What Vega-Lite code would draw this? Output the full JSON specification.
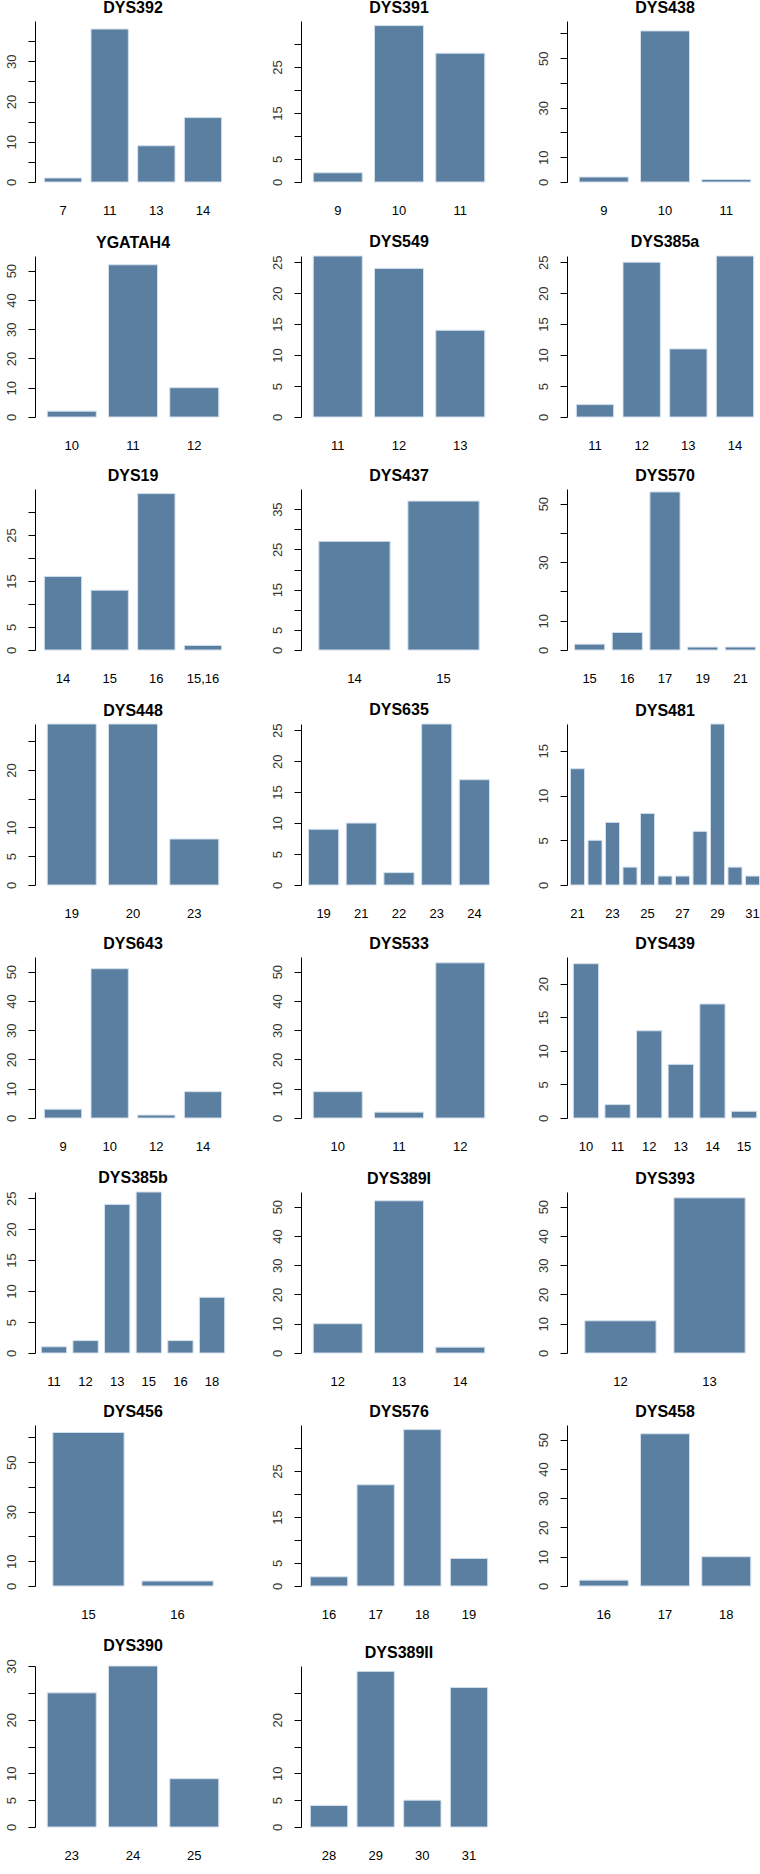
{
  "$schema": "https://vega.github.io/schema/vega-lite/v6.json",
  "padding": {"left": 5, "top": 0, "right": 0, "bottom": 0},
  "background": "white",
  "data": {"values": [
    {"m": "DYS392", "allele": "7", "count": 1}, {"m": "DYS392", "allele": "11", "count": 38}, {"m": "DYS392", "allele": "13", "count": 9}, {"m": "DYS392", "allele": "14", "count": 16},
    {"m": "DYS391", "allele": "9", "count": 2}, {"m": "DYS391", "allele": "10", "count": 34}, {"m": "DYS391", "allele": "11", "count": 28},
    {"m": "DYS438", "allele": "9", "count": 2}, {"m": "DYS438", "allele": "10", "count": 61}, {"m": "DYS438", "allele": "11", "count": 1},
    {"m": "YGATAH4", "allele": "10", "count": 2}, {"m": "YGATAH4", "allele": "11", "count": 52}, {"m": "YGATAH4", "allele": "12", "count": 10},
    {"m": "DYS549", "allele": "11", "count": 26}, {"m": "DYS549", "allele": "12", "count": 24}, {"m": "DYS549", "allele": "13", "count": 14},
    {"m": "DYS385a", "allele": "11", "count": 2}, {"m": "DYS385a", "allele": "12", "count": 25}, {"m": "DYS385a", "allele": "13", "count": 11}, {"m": "DYS385a", "allele": "14", "count": 26},
    {"m": "DYS19", "allele": "14", "count": 16}, {"m": "DYS19", "allele": "15", "count": 13}, {"m": "DYS19", "allele": "16", "count": 34}, {"m": "DYS19", "allele": "15,16", "count": 1},
    {"m": "DYS437", "allele": "14", "count": 27}, {"m": "DYS437", "allele": "15", "count": 37},
    {"m": "DYS570", "allele": "15", "count": 2}, {"m": "DYS570", "allele": "16", "count": 6}, {"m": "DYS570", "allele": "17", "count": 54}, {"m": "DYS570", "allele": "19", "count": 1}, {"m": "DYS570", "allele": "21", "count": 1},
    {"m": "DYS448", "allele": "19", "count": 28}, {"m": "DYS448", "allele": "20", "count": 28}, {"m": "DYS448", "allele": "23", "count": 8},
    {"m": "DYS635", "allele": "19", "count": 9}, {"m": "DYS635", "allele": "21", "count": 10}, {"m": "DYS635", "allele": "22", "count": 2}, {"m": "DYS635", "allele": "23", "count": 26}, {"m": "DYS635", "allele": "24", "count": 17},
    {"m": "DYS481", "allele": "21", "count": 13}, {"m": "DYS481", "allele": "22", "count": 5}, {"m": "DYS481", "allele": "23", "count": 7}, {"m": "DYS481", "allele": "24", "count": 2}, {"m": "DYS481", "allele": "25", "count": 8}, {"m": "DYS481", "allele": "26", "count": 1}, {"m": "DYS481", "allele": "27", "count": 1}, {"m": "DYS481", "allele": "28", "count": 6}, {"m": "DYS481", "allele": "29", "count": 18}, {"m": "DYS481", "allele": "30", "count": 2}, {"m": "DYS481", "allele": "31", "count": 1},
    {"m": "DYS643", "allele": "9", "count": 3}, {"m": "DYS643", "allele": "10", "count": 51}, {"m": "DYS643", "allele": "12", "count": 1}, {"m": "DYS643", "allele": "14", "count": 9},
    {"m": "DYS533", "allele": "10", "count": 9}, {"m": "DYS533", "allele": "11", "count": 2}, {"m": "DYS533", "allele": "12", "count": 53},
    {"m": "DYS439", "allele": "10", "count": 23}, {"m": "DYS439", "allele": "11", "count": 2}, {"m": "DYS439", "allele": "12", "count": 13}, {"m": "DYS439", "allele": "13", "count": 8}, {"m": "DYS439", "allele": "14", "count": 17}, {"m": "DYS439", "allele": "15", "count": 1},
    {"m": "DYS385b", "allele": "11", "count": 1}, {"m": "DYS385b", "allele": "12", "count": 2}, {"m": "DYS385b", "allele": "13", "count": 24}, {"m": "DYS385b", "allele": "15", "count": 26}, {"m": "DYS385b", "allele": "16", "count": 2}, {"m": "DYS385b", "allele": "18", "count": 9},
    {"m": "DYS389I", "allele": "12", "count": 10}, {"m": "DYS389I", "allele": "13", "count": 52}, {"m": "DYS389I", "allele": "14", "count": 2},
    {"m": "DYS393", "allele": "12", "count": 11}, {"m": "DYS393", "allele": "13", "count": 53},
    {"m": "DYS456", "allele": "15", "count": 62}, {"m": "DYS456", "allele": "16", "count": 2},
    {"m": "DYS576", "allele": "16", "count": 2}, {"m": "DYS576", "allele": "17", "count": 22}, {"m": "DYS576", "allele": "18", "count": 34}, {"m": "DYS576", "allele": "19", "count": 6},
    {"m": "DYS458", "allele": "16", "count": 2}, {"m": "DYS458", "allele": "17", "count": 52}, {"m": "DYS458", "allele": "18", "count": 10},
    {"m": "DYS390", "allele": "23", "count": 25}, {"m": "DYS390", "allele": "24", "count": 30}, {"m": "DYS390", "allele": "25", "count": 9},
    {"m": "DYS389II", "allele": "28", "count": 4}, {"m": "DYS389II", "allele": "29", "count": 29}, {"m": "DYS389II", "allele": "30", "count": 5}, {"m": "DYS389II", "allele": "31", "count": 26}
  ]},
  "spacing": 16,
  "vconcat": [
    {"spacing": 40, "hconcat": [
      {"title": "DYS392", "transform": [{"filter": "datum.m == 'DYS392'"}], "mark": "bar", "encoding": {
        "x": {"field": "allele", "type": "nominal", "sort": null, "title": null},
        "y": {"field": "count", "type": "quantitative", "title": null, "axis": {"values": [0,5,10,15,20,25,30,35], "labelExpr": "indexof([0,10,20,30], datum.value) >= 0 ? datum.label : ''"}}}},
      {"title": "DYS391", "transform": [{"filter": "datum.m == 'DYS391'"}], "mark": "bar", "encoding": {
        "x": {"field": "allele", "type": "nominal", "sort": null, "title": null},
        "y": {"field": "count", "type": "quantitative", "title": null, "axis": {"values": [0,5,10,15,20,25,30], "labelExpr": "indexof([0,5,15,25], datum.value) >= 0 ? datum.label : ''"}}}},
      {"title": "DYS438", "transform": [{"filter": "datum.m == 'DYS438'"}], "mark": "bar", "encoding": {
        "x": {"field": "allele", "type": "nominal", "sort": null, "title": null},
        "y": {"field": "count", "type": "quantitative", "title": null, "axis": {"values": [0,10,20,30,40,50,60], "labelExpr": "indexof([0,10,30,50], datum.value) >= 0 ? datum.label : ''"}}}}
    ]},
    {"spacing": 40, "hconcat": [
      {"title": "YGATAH4", "transform": [{"filter": "datum.m == 'YGATAH4'"}], "mark": "bar", "encoding": {
        "x": {"field": "allele", "type": "nominal", "sort": null, "title": null},
        "y": {"field": "count", "type": "quantitative", "title": null, "axis": {"values": [0,10,20,30,40,50]}}}},
      {"title": "DYS549", "transform": [{"filter": "datum.m == 'DYS549'"}], "mark": "bar", "encoding": {
        "x": {"field": "allele", "type": "nominal", "sort": null, "title": null},
        "y": {"field": "count", "type": "quantitative", "title": null, "axis": {"values": [0,5,10,15,20,25]}}}},
      {"title": "DYS385a", "transform": [{"filter": "datum.m == 'DYS385a'"}], "mark": "bar", "encoding": {
        "x": {"field": "allele", "type": "nominal", "sort": null, "title": null},
        "y": {"field": "count", "type": "quantitative", "title": null, "axis": {"values": [0,5,10,15,20,25]}}}}
    ]},
    {"spacing": 40, "hconcat": [
      {"title": "DYS19", "transform": [{"filter": "datum.m == 'DYS19'"}], "mark": "bar", "encoding": {
        "x": {"field": "allele", "type": "nominal", "sort": null, "title": null},
        "y": {"field": "count", "type": "quantitative", "title": null, "axis": {"values": [0,5,10,15,20,25,30], "labelExpr": "indexof([0,5,15,25], datum.value) >= 0 ? datum.label : ''"}}}},
      {"title": "DYS437", "transform": [{"filter": "datum.m == 'DYS437'"}], "mark": "bar", "encoding": {
        "x": {"field": "allele", "type": "nominal", "sort": null, "title": null},
        "y": {"field": "count", "type": "quantitative", "title": null, "axis": {"values": [0,5,10,15,20,25,30,35], "labelExpr": "indexof([0,5,15,25,35], datum.value) >= 0 ? datum.label : ''"}}}},
      {"title": "DYS570", "transform": [{"filter": "datum.m == 'DYS570'"}], "mark": "bar", "encoding": {
        "x": {"field": "allele", "type": "nominal", "sort": null, "title": null},
        "y": {"field": "count", "type": "quantitative", "title": null, "axis": {"values": [0,10,20,30,40,50], "labelExpr": "indexof([0,10,30,50], datum.value) >= 0 ? datum.label : ''"}}}}
    ]},
    {"spacing": 40, "hconcat": [
      {"title": "DYS448", "transform": [{"filter": "datum.m == 'DYS448'"}], "mark": "bar", "encoding": {
        "x": {"field": "allele", "type": "nominal", "sort": null, "title": null},
        "y": {"field": "count", "type": "quantitative", "title": null, "axis": {"values": [0,5,10,15,20,25], "labelExpr": "indexof([0,5,10,20], datum.value) >= 0 ? datum.label : ''"}}}},
      {"title": "DYS635", "transform": [{"filter": "datum.m == 'DYS635'"}], "mark": "bar", "encoding": {
        "x": {"field": "allele", "type": "nominal", "sort": null, "title": null},
        "y": {"field": "count", "type": "quantitative", "title": null, "axis": {"values": [0,5,10,15,20,25]}}}},
      {"title": "DYS481", "transform": [{"filter": "datum.m == 'DYS481'"}], "mark": "bar", "encoding": {
        "x": {"field": "allele", "type": "nominal", "sort": null, "title": null, "axis": {"labelExpr": "toNumber(datum.value) % 2 == 1 ? datum.label : ''"}},
        "y": {"field": "count", "type": "quantitative", "title": null, "axis": {"values": [0,5,10,15]}}}}
    ]},
    {"spacing": 40, "hconcat": [
      {"title": "DYS643", "transform": [{"filter": "datum.m == 'DYS643'"}], "mark": "bar", "encoding": {
        "x": {"field": "allele", "type": "nominal", "sort": null, "title": null},
        "y": {"field": "count", "type": "quantitative", "title": null, "axis": {"values": [0,10,20,30,40,50]}}}},
      {"title": "DYS533", "transform": [{"filter": "datum.m == 'DYS533'"}], "mark": "bar", "encoding": {
        "x": {"field": "allele", "type": "nominal", "sort": null, "title": null},
        "y": {"field": "count", "type": "quantitative", "title": null, "axis": {"values": [0,10,20,30,40,50]}}}},
      {"title": "DYS439", "transform": [{"filter": "datum.m == 'DYS439'"}], "mark": "bar", "encoding": {
        "x": {"field": "allele", "type": "nominal", "sort": null, "title": null},
        "y": {"field": "count", "type": "quantitative", "title": null, "axis": {"values": [0,5,10,15,20]}}}}
    ]},
    {"spacing": 40, "hconcat": [
      {"title": "DYS385b", "transform": [{"filter": "datum.m == 'DYS385b'"}], "mark": "bar", "encoding": {
        "x": {"field": "allele", "type": "nominal", "sort": null, "title": null},
        "y": {"field": "count", "type": "quantitative", "title": null, "axis": {"values": [0,5,10,15,20,25]}}}},
      {"title": "DYS389I", "transform": [{"filter": "datum.m == 'DYS389I'"}], "mark": "bar", "encoding": {
        "x": {"field": "allele", "type": "nominal", "sort": null, "title": null},
        "y": {"field": "count", "type": "quantitative", "title": null, "axis": {"values": [0,10,20,30,40,50]}}}},
      {"title": "DYS393", "transform": [{"filter": "datum.m == 'DYS393'"}], "mark": "bar", "encoding": {
        "x": {"field": "allele", "type": "nominal", "sort": null, "title": null},
        "y": {"field": "count", "type": "quantitative", "title": null, "axis": {"values": [0,10,20,30,40,50]}}}}
    ]},
    {"spacing": 40, "hconcat": [
      {"title": "DYS456", "transform": [{"filter": "datum.m == 'DYS456'"}], "mark": "bar", "encoding": {
        "x": {"field": "allele", "type": "nominal", "sort": null, "title": null},
        "y": {"field": "count", "type": "quantitative", "title": null, "axis": {"values": [0,10,20,30,40,50,60], "labelExpr": "indexof([0,10,30,50], datum.value) >= 0 ? datum.label : ''"}}}},
      {"title": "DYS576", "transform": [{"filter": "datum.m == 'DYS576'"}], "mark": "bar", "encoding": {
        "x": {"field": "allele", "type": "nominal", "sort": null, "title": null},
        "y": {"field": "count", "type": "quantitative", "title": null, "axis": {"values": [0,5,10,15,20,25,30], "labelExpr": "indexof([0,5,15,25], datum.value) >= 0 ? datum.label : ''"}}}},
      {"title": "DYS458", "transform": [{"filter": "datum.m == 'DYS458'"}], "mark": "bar", "encoding": {
        "x": {"field": "allele", "type": "nominal", "sort": null, "title": null},
        "y": {"field": "count", "type": "quantitative", "title": null, "axis": {"values": [0,10,20,30,40,50]}}}}
    ]},
    {"spacing": 40, "hconcat": [
      {"title": "DYS390", "transform": [{"filter": "datum.m == 'DYS390'"}], "mark": "bar", "encoding": {
        "x": {"field": "allele", "type": "nominal", "sort": null, "title": null},
        "y": {"field": "count", "type": "quantitative", "title": null, "axis": {"values": [0,5,10,15,20,25,30], "labelExpr": "indexof([0,5,10,20,30], datum.value) >= 0 ? datum.label : ''"}}}},
      {"title": "DYS389II", "transform": [{"filter": "datum.m == 'DYS389II'"}], "mark": "bar", "encoding": {
        "x": {"field": "allele", "type": "nominal", "sort": null, "title": null},
        "y": {"field": "count", "type": "quantitative", "title": null, "axis": {"values": [0,5,10,15,20,25], "labelExpr": "indexof([0,5,10,20], datum.value) >= 0 ? datum.label : ''"}}}}
    ]}
  ],
  "config": {
    "font": "Liberation Sans",
    "view": {"stroke": null, "discreteWidth": 196, "continuousHeight": 161},
    "bar": {"color": "#5b7fa1", "stroke": "#d3e0ec", "strokeWidth": 1},
    "scale": {"bandPaddingInner": 0.2, "bandPaddingOuter": 0.2, "zero": true},
    "title": {"fontSize": 16, "fontWeight": "bold", "color": "#000", "offset": 5, "anchor": "middle"},
    "axisX": {"domain": false, "ticks": false, "labelAngle": 0, "labelFontSize": 13, "labelPadding": 22, "labelColor": "#000", "grid": false},
    "axisY": {"domain": true, "domainColor": "#000", "tickColor": "#000", "tickSize": 7, "labelAngle": -90, "labelFontSize": 13, "labelPadding": 10, "labelColor": "#333", "grid": false, "labelOverlap": false, "labelBound": false}
  }
}
